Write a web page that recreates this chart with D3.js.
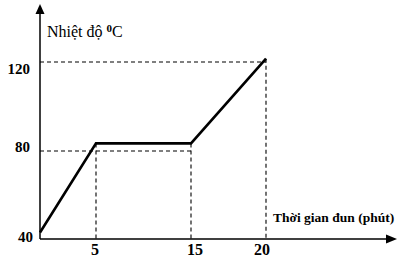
<!DOCTYPE html>
<html><head><meta charset="utf-8">
<script src="https://cdn.jsdelivr.net/npm/d3@7"></script>
<style>body{margin:0;background:#fff}svg{display:block}</style>
</head><body><div id="chart"></div>
<script>
const times = [0, 5, 15, 20];
const temps = [42.5, 83, 83, 121.5];
const xTicks = [5, 15, 20];
const yTicks = [40, 80, 120];
const yLabel = "Nhiệt độ";
const yUnit = "C";
const xLabel = "Thời gian đun (phút)";

const W = 418, H = 273;
const FONT = "'Liberation Serif', 'Times New Roman', serif";
const svg = d3.select("#chart").append("svg").attr("width", W).attr("height", H)
  .style("font-family", FONT);
svg.append("rect").attr("width", W).attr("height", H).attr("fill", "#fff");

// schematic (non-uniform) time axis
const x = d3.scaleLinear().domain([0, 5, 15, 20]).range([40, 96, 191, 266]);
const y = d3.scaleLinear().domain([40, 120]).range([238, 62]);
const axisY = 239;

// dashed guides
const guide = svg.append("g").attr("stroke", "#000").attr("stroke-width", 1.1).attr("stroke-dasharray", "4,3").attr("fill", "none");
guide.append("line").attr("x1", x(0)).attr("x2", x(15)).attr("y1", y(80) + 1).attr("y2", y(80) + 1);
guide.append("line").attr("x1", x(0)).attr("x2", x(20)).attr("y1", y(120)).attr("y2", y(120));
times.forEach((t, i) => {
  if (t === 0) return;
  guide.append("line").attr("x1", x(t)).attr("x2", x(t)).attr("y1", y(temps[i])).attr("y2", axisY);
});

// axes
const ax = svg.append("g").attr("stroke", "#000").attr("stroke-width", 1.5);
ax.append("line").attr("x1", 40).attr("x2", 40).attr("y1", axisY).attr("y2", 12);
ax.append("line").attr("x1", 40).attr("x2", 388).attr("y1", axisY).attr("y2", axisY);
svg.append("path").attr("d", "M40,4 L35.5,14 L44.5,14 Z").attr("fill", "#000");
svg.append("path").attr("d", "M397,239 L386,234.5 L386,243.5 Z").attr("fill", "#000");

// data line
svg.append("path")
  .datum(times.map((t, i) => [t, temps[i]]))
  .attr("fill", "none").attr("stroke", "#000").attr("stroke-width", 2.6).attr("stroke-linejoin", "miter")
  .attr("d", d3.line().x(d => x(d[0])).y(d => y(d[1])));

// y tick labels
const yOff = {40: 4, 80: 2, 120: 12};
svg.selectAll(".yt").data(yTicks).enter().append("text")
  .attr("font-family", FONT)
  .attr("x", d => d === 40 ? 33 : 30).attr("y", d => y(d) + yOff[d])
  .attr("text-anchor", "end").attr("font-size", 15).attr("font-weight", "bold").text(d => d);

// x tick labels
svg.selectAll(".xt").data(xTicks).enter().append("text")
  .attr("font-family", FONT)
  .attr("x", d => x(d) + (d === 5 ? -1 : d === 15 ? 4 : -4)).attr("y", 255)
  .attr("text-anchor", "middle").attr("font-size", 16).attr("font-weight", "bold").text(d => d);

// axis titles
const t = svg.append("text").attr("font-family", FONT).attr("x", 47).attr("y", 37).attr("font-size", 16);
t.append("tspan").text(yLabel + " ");
t.append("tspan").attr("font-size", 11).attr("font-weight", "bold").attr("dy", -5).text("0");
t.append("tspan").attr("dy", 5).text(yUnit);

svg.append("text").attr("font-family", FONT).attr("x", 273).attr("y", 222).attr("font-size", 13.5).attr("font-weight", "bold").text(xLabel);
</script></body></html>
